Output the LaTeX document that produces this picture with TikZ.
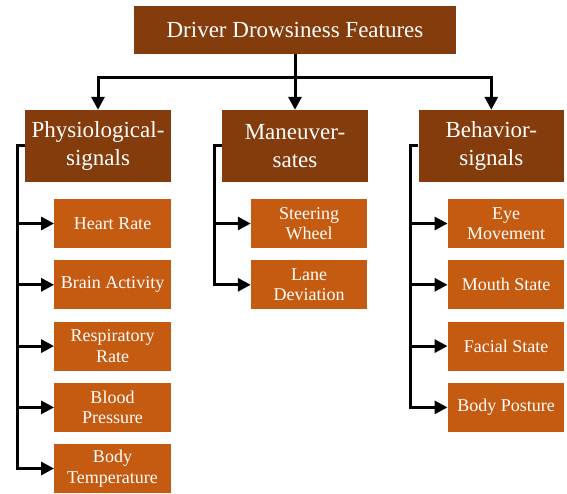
\documentclass[tikz,border=0pt]{standalone}
\usepackage{fontspec}
\setmainfont{Liberation Serif}
\usetikzlibrary{arrows.meta}
\definecolor{darkbox}{RGB}{132,60,12}
\definecolor{leafbox}{RGB}{197,90,17}
\begin{document}
\begin{tikzpicture}[x=1pt,y=-1pt,
  topbox/.style={fill=darkbox,text=white,minimum width=322pt,minimum height=48pt,inner sep=0pt,
    font=\fontsize{23}{27}\selectfont},
  midbox/.style={fill=darkbox,text=white,minimum width=145.5pt,minimum height=72pt,inner sep=0pt,align=center,
    font=\fontsize{23}{27.4}\selectfont},
  leafnode/.style={fill=leafbox,text=white,minimum width=116.5pt,minimum height=49pt,inner sep=0pt,align=center,
    font=\fontsize{18}{20.5}\selectfont},
  arr/.style={line width=3pt,-{Triangle[length=13pt,width=13pt]},line join=miter}]
\useasboundingbox (0,0) rectangle (567,494);
\node[topbox] (top) at (295,30) {Driver Drowsiness Features};
\node[midbox] (phys) at (98,146) {Physiological-\\signals};
\node[midbox] (man) at (295,146) {Maneuver-\\sates};
\node[midbox] (beh) at (491.3,146) {Behavior-\\signals};
% leaves
\node[leafnode] (hr) at (112.5,223.5) {Heart Rate};
\node[leafnode] (ba) at (112.5,284.8) {Brain Activity};
\node[leafnode] (rr) at (112.5,346.1) {Respiratory\\Rate};
\node[leafnode] (bp) at (112.5,407.4) {Blood\\Pressure};
\node[leafnode] (bt) at (112.5,468.5) {Body\\Temperature};
\node[leafnode] (sw) at (309.2,223.5) {Steering\\Wheel};
\node[leafnode] (ld) at (309.2,284.8) {Lane\\Deviation};
\node[leafnode] (em) at (506,223.5) {Eye\\Movement};
\node[leafnode] (ms) at (506,284.8) {Mouth State};
\node[leafnode] (fs) at (506,346.1) {Facial State};
\node[leafnode] (bo) at (506,407.4) {Body Posture};
% top connectors
\draw[arr] (top.south) -- ++(0,23) -| (phys.north);
\draw[arr] (top.south) -- ++(0,23) -| (beh.north);
\draw[arr] (top.south) -- (man.north);
% branches
\foreach \l in {hr,ba,rr,bp,bt}{\draw[arr] (phys.west) -- ++(-8,0) |- (\l.west);}
\foreach \l in {sw,ld}{\draw[arr] (man.west) -- ++(-8,0) |- (\l.west);}
\foreach \l in {em,ms,fs,bo}{\draw[arr] (beh.west) -- ++(-7.5,0) |- (\l.west);}
\end{tikzpicture}
\end{document}
